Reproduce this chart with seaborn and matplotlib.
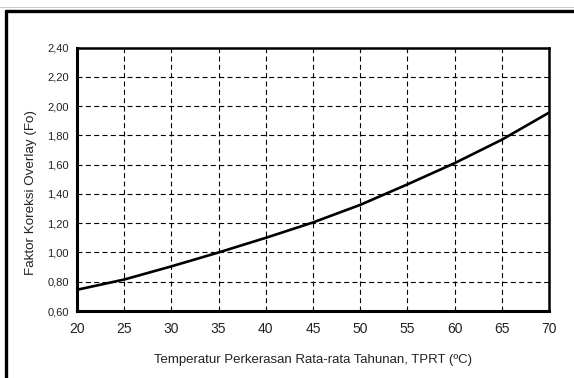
import matplotlib
matplotlib.use("Agg")
import matplotlib.pyplot as plt
from matplotlib.lines import Line2D
import seaborn as sns
import pandas as pd

# Overlay correction factor vs. mean annual pavement temperature
tprt = [20, 25, 30, 35, 40, 45, 50, 55, 60, 65, 70]
fo = [0.745, 0.815, 0.905, 1.00, 1.10, 1.205, 1.325, 1.465, 1.61, 1.77, 1.955]

x_ticks = [20, 25, 30, 35, 40, 45, 50, 55, 60, 65, 70]
y_ticks = [0.60, 0.80, 1.00, 1.20, 1.40, 1.60, 1.80, 2.00, 2.20, 2.40]
y_tick_labels = ["0,60", "0,80", "1,00", "1,20", "1,40", "1,60", "1,80", "2,00", "2,20", "2,40"]

x_label = "Temperatur Perkerasan Rata-rata Tahunan, TPRT (ºC)"
y_label = "Faktor Koreksi Overlay (Fo)"

sns.set_theme(style="white")
plt.rcParams["font.family"] = ["Liberation Sans", "DejaVu Sans"]

df = pd.DataFrame({"TPRT": tprt, "Fo": fo})

fig = plt.figure(figsize=(5.74, 3.78), dpi=100)
ax = fig.add_axes([0.1341, 0.1772, 0.9564 - 0.1341, 0.8743 - 0.1772])

sns.lineplot(data=df, x="TPRT", y="Fo", ax=ax, color="black", linewidth=1.9, zorder=3)

ax.set_xlim(20, 70)
ax.set_ylim(0.60, 2.40)
ax.set_xticks(x_ticks)
ax.set_xticklabels([str(v) for v in x_ticks],
                   family=["Liberation Sans Narrow", "Liberation Sans", "DejaVu Sans"],
                   fontsize=10)
ax.set_yticks(y_ticks)
ax.set_yticklabels(y_tick_labels, fontsize=8)

ax.grid(True, color="black", linestyle=(0, (4.5, 3)), linewidth=0.8)
ax.set_axisbelow(True)

for side in ["left", "bottom"]:
    ax.spines[side].set_linewidth(2.2)
    ax.spines[side].set_color("black")
for side in ["top", "right"]:
    ax.spines[side].set_linewidth(1.8)
    ax.spines[side].set_color("black")

ax.tick_params(axis="both", direction="out", length=3, width=0.8, color="black",
               labelcolor="#222222", pad=3)
ax.tick_params(axis="x", pad=5)

ax.set_xlabel(x_label, fontsize=9.5, color="#222222", labelpad=13)
ax.set_ylabel(y_label, fontsize=9.6, color="#222222")
ax.yaxis.set_label_coords(-0.085, 0.45)

# Outer frame around the figure (top and left edges)
fig.add_artist(Line2D([6 / 574, 1.0], [1 - 11 / 378, 1 - 11 / 378],
                      transform=fig.transFigure, color="black", linewidth=2.4))
fig.add_artist(Line2D([6 / 574, 6 / 574], [1 - 11 / 378, 0.0],
                      transform=fig.transFigure, color="black", linewidth=2.4))
fig.add_artist(Line2D([0.0, 1.0], [1 - 7 / 378, 1 - 7 / 378],
                      transform=fig.transFigure, color="#cccccc", linewidth=0.8))

fig.savefig("out.png", dpi=100)
